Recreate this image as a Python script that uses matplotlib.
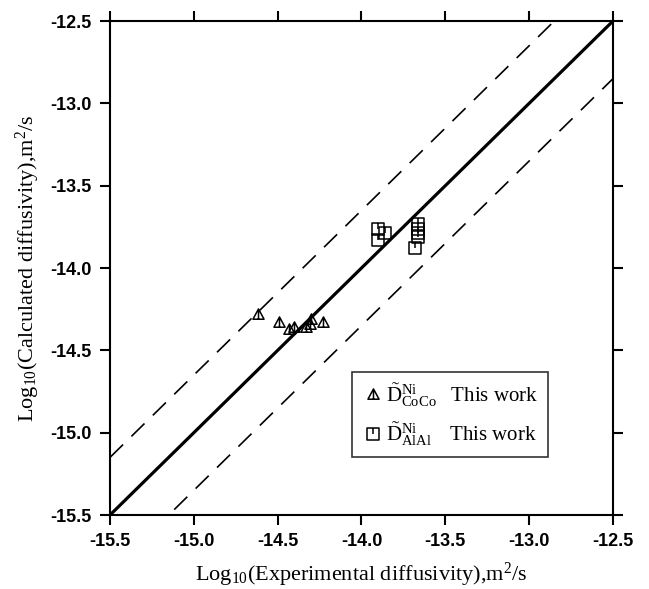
import matplotlib
matplotlib.use("Agg")
import matplotlib.pyplot as plt
from matplotlib.path import Path
import numpy as np

# experimental vs calculated log10 diffusivities
co_exp = [-14.62, -14.49, -14.43, -14.40, -14.33, -14.31, -14.30, -14.23]
co_calc = [-14.28, -14.33, -14.37, -14.36, -14.36, -14.34, -14.31, -14.33]
al_exp = [-13.90, -13.86, -13.90, -13.66, -13.66, -13.66, -13.66, -13.68]
al_calc = [-13.76, -13.79, -13.83, -13.73, -13.76, -13.79, -13.81, -13.88]

lims = [-15.5, -12.5]
ticks = [-15.5, -15.0, -14.5, -14.0, -13.5, -13.0, -12.5]
band = 0.35

plt.rcParams['mathtext.fontset'] = 'custom'
plt.rcParams['mathtext.rm'] = 'Liberation Serif'
plt.rcParams['mathtext.it'] = 'Liberation Serif:italic'

# open symbols with a small vertical stroke, like the original
tri = Path([(-1, -0.85), (1, -0.85), (0, 1), (-1, -0.85), (0, 0.75), (0, -0.85)],
           [Path.MOVETO, Path.LINETO, Path.LINETO, Path.CLOSEPOLY, Path.MOVETO, Path.LINETO])
sq = Path([(-1, -1), (1, -1), (1, 1), (-1, 1), (-1, -1), (0, 1), (0, 0)],
          [Path.MOVETO, Path.LINETO, Path.LINETO, Path.LINETO, Path.CLOSEPOLY, Path.MOVETO, Path.LINETO])

fig = plt.figure(figsize=(6.49, 5.89), dpi=100)
ax = fig.add_axes([0.1695, 0.1256, 0.775, 0.8387])

x = np.array(lims)
ax.plot(x, x, color='black', lw=2.3, solid_capstyle='butt')
ax.plot(x, x + band, color='black', lw=1.2, dashes=(11, 7))
ax.plot(x, x - band, color='black', lw=1.2, dashes=(11, 7))

ax.plot(co_exp, co_calc, linestyle='none', marker=tri, ms=8, mfc='none', mec='black', mew=1.1,
        label=r'$\tilde{\mathrm{D}}^{\mathrm{Ni}}_{\mathrm{CoCo}}\quad\mathrm{This\ work}$')
ax.plot(al_exp, al_calc, linestyle='none', marker=sq, ms=8, mfc='none', mec='black', mew=1.1,
        label=r'$\tilde{\mathrm{D}}^{\mathrm{Ni}}_{\mathrm{AlAl}}\:\quad\mathrm{This\ work}$')

ax.set_xlim(lims)
ax.set_ylim(lims)
ax.set_xticks(ticks)
ax.set_yticks(ticks)
ax.set_xticklabels(['%.1f' % t for t in ticks], fontsize=13, fontweight='bold', family='Liberation Sans')
ax.set_yticklabels(['%.1f' % t for t in ticks], fontsize=13, fontweight='bold', family='Liberation Sans')
ax.tick_params(which='major', direction='out', length=7, width=1.5, top=True, right=True, pad=6)

for s in ax.spines.values():
    s.set_linewidth(1.5)

ax.set_xlabel(r'Log$_{10}$(Experimental diffusivity),m$^2$/s', fontsize=16, family='Liberation Serif', labelpad=8)
ax.set_ylabel(r'Log$_{10}$(Calculated diffusivity),m$^2$/s', fontsize=16, family='Liberation Serif', labelpad=6)

leg = ax.legend(loc='lower left', bbox_to_anchor=(0.481, 0.117),
                frameon=True, fancybox=False, edgecolor='black', handletextpad=0.1, handlelength=1.1,
                borderpad=0.45, labelspacing=0.55, borderaxespad=0,
                prop={'family': 'Liberation Serif', 'size': 15})
leg.get_frame().set_linewidth(1.2)

fig.savefig('out.png', dpi=100)
